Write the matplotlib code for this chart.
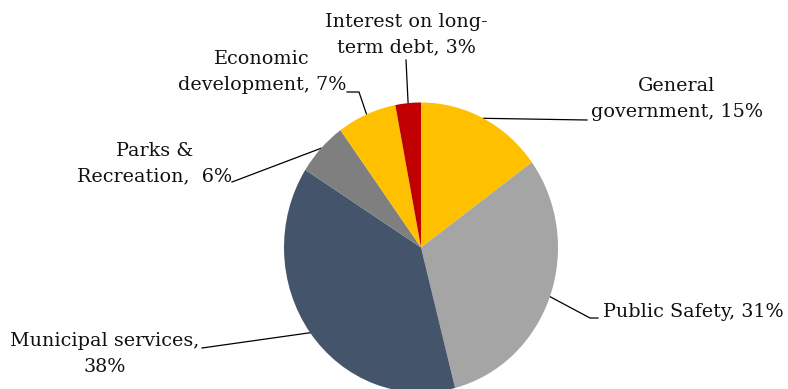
import numpy as np
import matplotlib.pyplot as plt

categories = ['General\ngovernment, 15%', 'Public Safety, 31%', 'Municipal services,\n38%',
              'Parks &\nRecreation,  6%', 'Economic\ndevelopment, 7%', 'Interest on long-\nterm debt, 3%']
shares = [15, 31, 38, 6, 7, 3]
colors = ['#FFC000', '#A5A5A5', '#44546A', '#7F7F7F', '#FFC000', '#C00000']

W, H = 788, 389
fig = plt.figure(figsize=(W / 100, H / 100), dpi=100)
ax = fig.add_axes([0, 0, 1, 1])
ax.set_xlim(0, W)
ax.set_ylim(0, H)
ax.axis('off')

# pie is slightly taller than wide in the original
cx, cy, rx, ry = 421, H - 247.5, 137, 145
pax = fig.add_axes([(cx - rx) / W, (cy - ry) / H, 2 * rx / W, 2 * ry / H])
wedges, _ = pax.pie(shares, colors=colors, startangle=90, counterclock=False,
                    radius=1, wedgeprops=dict(linewidth=0))
pax.set_aspect('auto')
pax.set_xlim(-1, 1)
pax.set_ylim(-1, 1)
pax.axis('off')

# label layout: (text x, text y, ha, leader elbow points) in pixels from top-left
layout = [
    (591, 99, 'left', [(587, 120)]),
    (603, 312, 'left', [(598, 318), (590, 318)]),
    (105, 354, 'center', [(202, 348)]),
    (155, 164, 'center', [(232, 182)]),
    (262, 72, 'center', [(347, 92), (359, 92)]),
    (406, 35, 'center', [(406, 60)]),
]

for w, label, (tx, ty, ha, pts) in zip(wedges, categories, layout):
    mid = np.deg2rad((w.theta1 + w.theta2) / 2)
    end = (cx + rx * np.cos(mid), cy + ry * np.sin(mid))
    xs = [p[0] for p in pts] + [end[0]]
    ys = [H - p[1] for p in pts] + [end[1]]
    ax.plot(xs, ys, color='black', lw=0.9)
    ax.text(tx, H - ty, label, ha=ha, va='center', multialignment='center',
            fontsize=13.8, family='DejaVu Serif', linespacing=1.55, color='#111111')

fig.savefig('out.png', dpi=100)
